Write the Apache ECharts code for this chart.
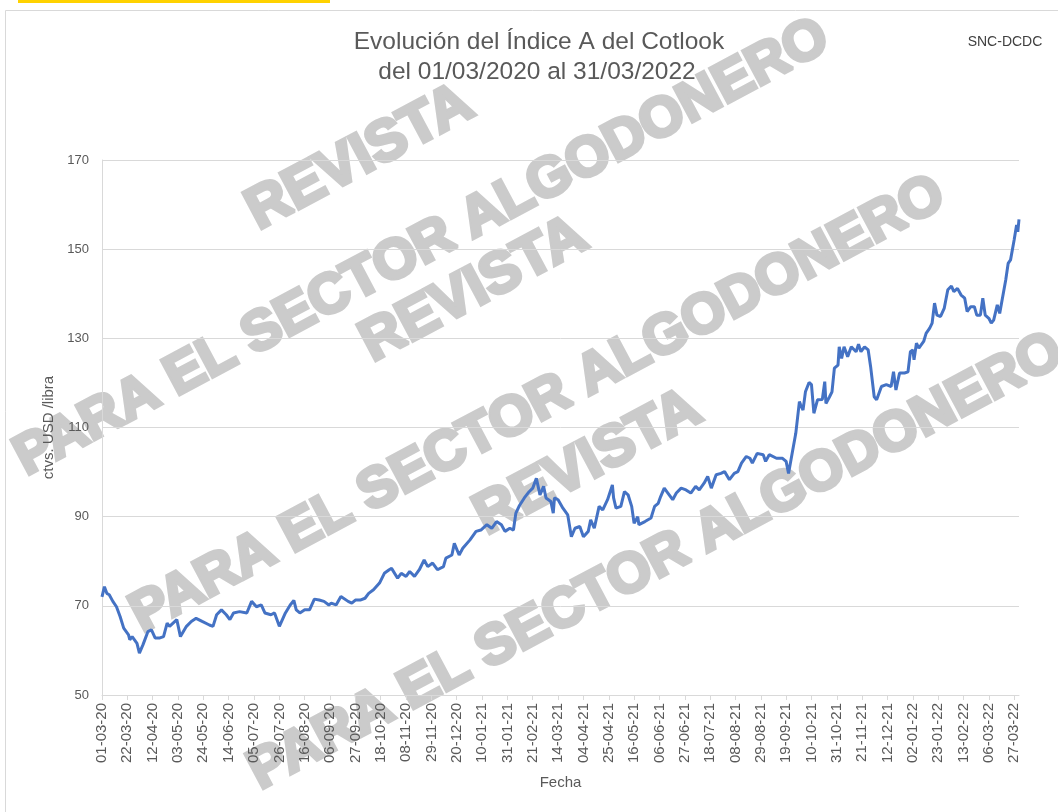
<!DOCTYPE html>
<html>
<head>
<meta charset="utf-8">
<script src="https://cdn.jsdelivr.net/npm/echarts@6/dist/echarts.min.js"></script>
<style>
  html, body { margin: 0; padding: 0; background: #fff; }
  #chart { width: 1058px; height: 812px; }
</style>
</head>
<body>
<div id="chart"></div>
<script>
  // serie diaria: 01/03/2020 .. 31/03/2022
  var startDate = [2020, 2, 1];
  var dayCount = 761;

  // días (desde 01/03/2020) con lectura del índice
  var dayIdx = [
    0, 2, 4, 6, 9, 12, 15, 18, 22, 23, 25, 29, 31, 34, 38, 41, 44, 48, 51, 54,
    56, 62, 65, 70, 74, 78, 83, 89, 92, 95, 99, 103, 106, 109, 114, 120, 124, 128, 132, 135,
    140, 143, 147, 152, 156, 159, 161, 164, 168, 172, 176, 180, 184, 188, 190, 194, 198, 204, 207, 210,
    214, 218, 221, 225, 230, 234, 238, 240, 245, 248, 252, 255, 259, 263, 267, 270, 274, 278, 283, 285,
    290, 292, 296, 299, 305, 310, 314, 319, 323, 327, 331, 334, 338, 341, 343, 346, 350, 354, 357, 360,
    363, 366, 368, 372, 374, 375, 378, 382, 386, 389, 392, 396, 399, 403, 405, 408, 412, 415, 419, 423,
    424, 426, 430, 433, 436, 439, 441, 444, 445, 450, 455, 458, 461, 463, 466, 469, 473, 476, 480, 484,
    488, 492, 495, 499, 502, 505, 509, 513, 516, 520, 524, 527, 530, 534, 537, 539, 543, 548, 550, 553,
    559, 564, 567, 569, 572, 575, 578, 579, 581, 583, 586, 588, 590, 593, 597, 599, 600, 603, 605, 607,
    610, 611, 613, 615, 618, 621, 625, 627, 629, 632, 635, 637, 640, 642, 646, 650, 654, 656, 658, 661,
    665, 668, 670, 672, 673, 675, 677, 681, 683, 686, 688, 690, 692, 695, 698, 701, 704, 706, 709, 712,
    715, 717, 720, 723, 725, 728, 730, 732, 735, 737, 739, 742, 744, 746, 749, 751, 753, 756, 758, 759,
    760
  ];
  // Índice A del Cotlook, ctvs. USD / libra
  var indexValues = [
    72.0, 74.3, 72.8, 72.5, 71.0, 69.8, 67.6, 65.0, 63.5, 62.4, 63.1, 61.6, 59.4, 61.3, 64.2, 64.6, 62.8, 62.8, 63.1, 66.1,
    65.4, 66.9, 63.1, 65.4, 66.5, 67.2, 66.5, 65.7, 65.4, 68.0, 69.1, 68.0, 66.9, 68.4, 68.7, 68.4, 71.0, 69.8, 70.2, 68.4,
    68.0, 68.4, 65.4, 68.4, 70.2, 71.2, 69.1, 68.4, 69.1, 69.1, 71.5, 71.3, 71.0, 70.2, 70.6, 70.2, 72.1, 71.0, 70.6, 71.3,
    71.3, 71.7, 72.8, 73.6, 75.1, 77.3, 78.1, 78.4, 76.2, 77.3, 76.6, 77.7, 76.6, 78.1, 80.3, 78.8, 79.6, 78.1, 78.8, 80.7,
    81.4, 84.0, 81.4, 82.9, 84.8, 86.7, 87.0, 88.2, 87.4, 88.9, 88.2, 86.7, 87.4, 87.0, 90.8, 92.5, 94.2, 95.6, 96.4, 98.6,
    94.9, 96.8, 94.2, 93.4, 90.8, 94.2, 93.8, 91.9, 90.4, 85.5, 87.4, 87.8, 85.5, 86.7, 89.3, 87.4, 92.3, 91.5, 93.8, 97.1,
    94.2, 91.9, 92.3, 95.6, 94.9, 92.3, 88.5, 90.0, 88.2, 88.9, 89.7, 92.3, 93.0, 94.5, 96.4, 95.3, 93.8, 95.3, 96.4, 96.0,
    95.3, 96.8, 96.0, 97.5, 99.0, 96.4, 99.4, 99.7, 100.1, 98.3, 99.7, 100.1, 102.0, 103.5, 103.1, 102.0, 104.2, 103.9, 102.4, 103.9,
    103.1, 103.1, 102.4, 99.7, 104.2, 108.7, 115.8, 115.1, 113.9, 118.0, 120.1, 119.6, 113.2, 116.2, 116.3, 120.3, 115.4, 116.9, 118.0, 123.3,
    124.0, 128.1, 125.5, 128.1, 125.9, 128.1, 127.0, 128.7, 127.0, 128.1, 127.4, 123.7, 116.9, 116.2, 119.2, 119.6, 119.2, 122.5, 118.4, 122.2,
    122.2, 122.5, 127.0, 127.4, 125.2, 128.9, 127.8, 129.3, 131.1, 132.3, 133.4, 137.9, 135.2, 134.9, 136.7, 140.9, 141.7, 140.5, 141.2, 139.7,
    139.0, 136.0, 137.1, 137.1, 135.2, 135.2, 139.0, 135.2, 134.5, 133.4, 134.1, 137.5, 135.6, 138.6, 143.1, 146.8, 147.6, 152.1, 155.4, 153.9,
    156.7
  ];

  var yTicks = [50, 70, 90, 110, 130, 150, 170];

  var titleLines = ['Evolución del Índice A del Cotlook', 'del 01/03/2020 al 31/03/2022'];
  var sourceText = 'SNC-DCDC';
  var markTop = 'REVISTA';
  var markBottom = 'PARA EL SECTOR ALGODONERO';

  function pad(n) { return (n < 10 ? '0' : '') + n; }

  var dates = [];
  for (var i = 0; i < dayCount; i++) {
    var d = new Date(startDate[0], startDate[1], startDate[2] + i);
    dates.push(pad(d.getDate()) + '-' + pad(d.getMonth() + 1) + '-' + String(d.getFullYear()).slice(2));
  }

  var seriesData = [];
  for (var j = 0; j < dayCount; j++) seriesData.push(null);
  for (var k = 0; k < dayIdx.length; k++) seriesData[dayIdx[k]] = indexValues[k];

  var font = '"Liberation Sans", Arial, sans-serif';
  var grey = '#595959';
  var markFill = '#cbcbcb';
  var angle = 28 * Math.PI / 180;

  // marca de agua de la revista (texto rotado, debajo de todo)
  function mark(text, x, y, size) {
    return {
      type: 'text', x: x, y: y, rotation: angle, z: -1, silent: true,
      style: {
        text: text, fill: markFill, stroke: markFill, lineWidth: 4,
        font: 'bold ' + size + 'px ' + font,
        align: 'center', verticalAlign: 'middle',
        textAlign: 'center', textVerticalAlign: 'middle'
      }
    };
  }

  var myChart = echarts.init(document.getElementById('chart'));
  var option = {
    backgroundColor: '#fff',
    animation: false,
    textStyle: { fontFamily: font },
    graphic: [
      { type: 'rect', shape: { x: 18, y: 0, width: 312, height: 3 }, style: { fill: '#FFD200' }, z: -1 },
      { type: 'rect', shape: { x: 5.5, y: 10.5, width: 1100, height: 900 }, style: { fill: 'none', stroke: '#d9d9d9', lineWidth: 1 }, z: -1 },
      mark(markTop, 360, 158, 58),
      mark(markBottom, 422, 248, 56),
      mark(markTop, 474, 290, 58),
      mark(markBottom, 538, 405, 56),
      mark(markTop, 588, 463, 58),
      mark(markBottom, 656, 562, 56),
      {
        type: 'text', x: 539, y: 42, z: 3,
        style: { text: titleLines[0], fill: grey, font: '24.5px ' + font, align: 'center', verticalAlign: 'middle', textAlign: 'center', textVerticalAlign: 'middle' }
      },
      {
        type: 'text', x: 537, y: 72, z: 3,
        style: { text: titleLines[1], fill: grey, font: '24.5px ' + font, align: 'center', verticalAlign: 'middle', textAlign: 'center', textVerticalAlign: 'middle' }
      },
      {
        type: 'text', x: 1005, y: 42, z: 3,
        style: { text: sourceText, fill: '#404040', font: '14px ' + font, align: 'center', verticalAlign: 'middle', textAlign: 'center', textVerticalAlign: 'middle' }
      }
    ],
    grid: { left: 102, right: 39, top: 160, bottom: 117, containLabel: false },
    xAxis: {
      type: 'category',
      data: dates,
      boundaryGap: false,
      name: 'Fecha',
      nameLocation: 'middle',
      nameGap: 80,
      nameTextStyle: { color: grey, fontSize: 15, fontFamily: font },
      axisLine: { lineStyle: { color: '#d9d9d9', width: 1 } },
      axisTick: { show: true, interval: 20, length: 5, lineStyle: { color: '#d9d9d9' } },
      axisLabel: { interval: 20, rotate: 90, margin: 8, color: grey, fontSize: 15, fontFamily: font },
      splitLine: { show: false }
    },
    yAxis: {
      type: 'value',
      min: yTicks[0],
      max: yTicks[yTicks.length - 1],
      interval: 20,
      name: 'ctvs. USD /libra',
      nameLocation: 'middle',
      nameGap: 33,
      nameTextStyle: { color: grey, fontSize: 15, fontFamily: font },
      axisLine: { show: true, lineStyle: { color: '#d9d9d9', width: 1 } },
      axisTick: { show: false },
      axisLabel: { color: grey, fontSize: 13, margin: 13, fontFamily: font },
      splitLine: { lineStyle: { color: '#d9d9d9', width: 1 } }
    },
    series: [
      {
        name: 'Índice A',
        type: 'line',
        data: seriesData,
        connectNulls: true,
        showSymbol: false,
        symbol: 'none',
        z: 5,
        lineStyle: { color: '#4472C4', width: 3 },
        itemStyle: { color: '#4472C4' }
      }
    ]
  };
  myChart.setOption(option);
</script>
</body>
</html>
